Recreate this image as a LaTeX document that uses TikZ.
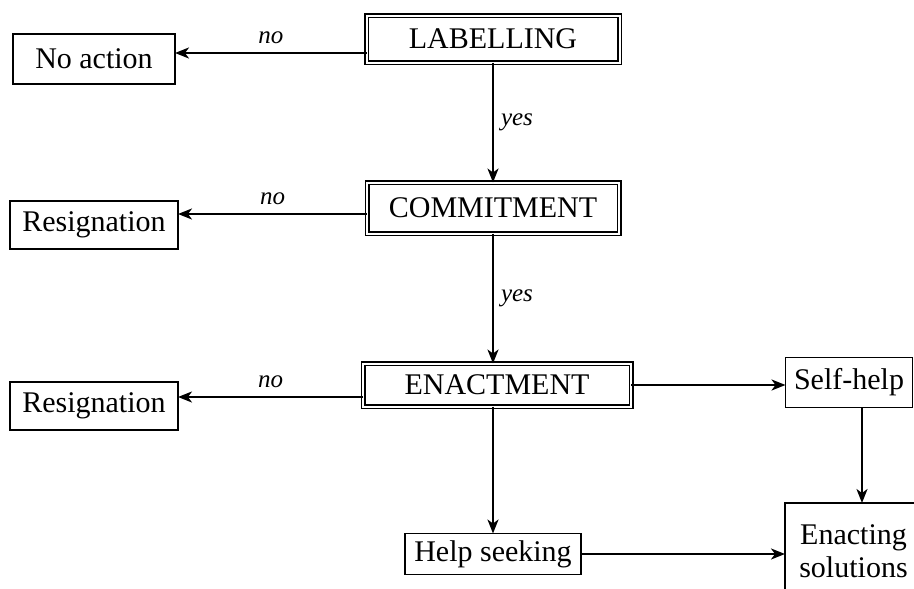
\documentclass[tikz,border=0pt]{standalone}
\usepackage{fontspec}
\setmainfont{Liberation Serif}
\usetikzlibrary{arrows.meta,calc}
\begin{document}
\begin{tikzpicture}[x=1pt,y=-1pt,
  every node/.style={inner sep=0pt, outer sep=0pt},
  txt/.style={font=\fontsize{30}{35}\selectfont},
  sbox/.style={txt, draw, line width=1.8pt, align=center},
  dbox/.style={txt, draw, line width=1.5pt, double=white, double distance=2pt},
  lbl/.style={font=\fontsize{25}{29}\selectfont\itshape},
  arr/.style={line width=1.8pt, -{Stealth[length=14pt,width=11pt,inset=4pt]}}]
\useasboundingbox (0,0) rectangle (914,589);
\clip (0,0) rectangle (914,589);
% main boxes
\node[dbox, minimum width=253pt, minimum height=47pt] (lab) at (493,39) {LABELLING};
\node[dbox, minimum width=252pt, minimum height=51pt] (comm) at (493,208) {COMMITMENT};
\node[dbox, minimum width=268pt, minimum height=43pt] (enact) at (497,385) {ENACTMENT};
% side boxes
\node[sbox, minimum width=162pt, minimum height=50pt] (noact) at (94,59) {No action};
\node[sbox, minimum width=168pt, minimum height=48pt] (res1) at (94,225) {Resignation};
\node[sbox, minimum width=168pt, minimum height=48pt] (res2) at (94,406) {Resignation};
\node[sbox, minimum width=127pt, minimum height=50pt] (self) at (849,382.5) {Self-help};
\node[sbox, minimum width=137pt, minimum height=96pt] (sol) at (853.5,551) {Enacting\\[-2pt]solutions};
\node[sbox, minimum width=176pt, minimum height=41pt] (help) at (493,554) {Help seeking};
% anchor points for the side arrows
\coordinate (labA) at ($(lab.west)+(0,14)$);
\coordinate (commA) at ($(comm.west)+(0,6)$);
\coordinate (enactA) at ($(enact.west)+(0,12)$);
\coordinate (selfA) at ($(self.south)+(13,0)$);
% connectors
\draw[arr] (labA) -- (noact.east |- labA) node[lbl, midway, above=9pt] {no};
\draw[arr] (commA) -- (res1.east |- commA) node[lbl, midway, above=9pt] {no};
\draw[arr] (enactA) -- (res2.east |- enactA) node[lbl, midway, above=9pt] {no};
\draw[arr] (lab.south) -- (lab.south |- comm.north) node[lbl, midway, right=8pt] {yes};
\draw[arr] (comm.south) -- (comm.south |- enact.north) node[lbl, midway, right=8pt] {yes};
\draw[arr] (enact.south -| help.north) -- (help.north);
\draw[arr] (enact.east) -- (self.west |- enact.east);
\draw[arr] (selfA) -- (selfA |- sol.north);
\draw[arr] (help.east) -- (sol.west |- help.east);
\end{tikzpicture}
\end{document}
